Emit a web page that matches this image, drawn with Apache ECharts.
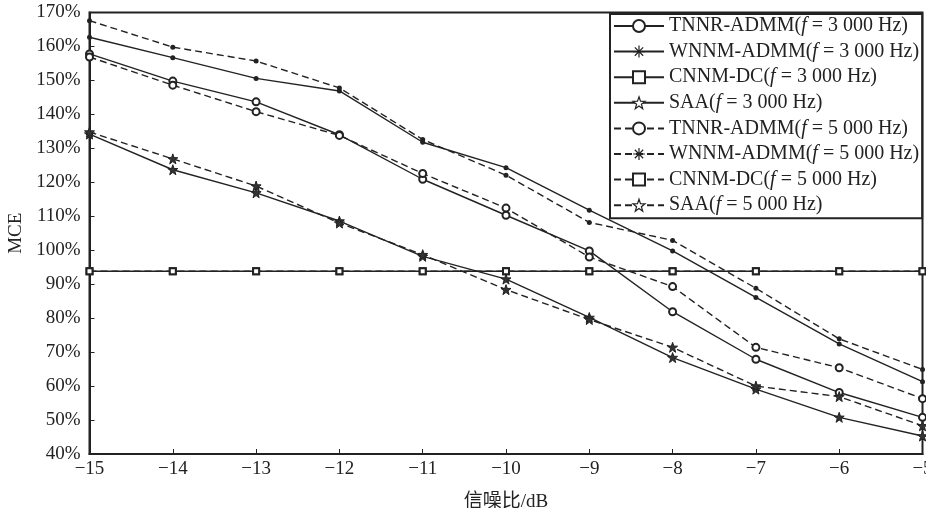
<!DOCTYPE html>
<html>
<head>
<meta charset="utf-8">
<script src="https://cdn.jsdelivr.net/npm/echarts@6/dist/echarts.min.js"></script>
<style>
  html, body { margin: 0; padding: 0; background: #fff; }
  #chart { width: 926px; height: 508px; }
</style>
</head>
<body>
<div id="chart"></div>
<script>
// Signal-to-noise ratio (dB) on the x axis
const snr = [-15, -14, -13, -12, -11, -10, -9, -8, -7, -6, -5];

// MCE (%) for each method at f = 3 000 Hz
const tnnr3000 = [157.8, 149.8, 143.7, 134.0, 120.9, 110.3, 99.8, 81.9, 67.9, 58.1, 50.8];
const wnnm3000 = [162.7, 156.7, 150.6, 146.9, 131.8, 124.3, 111.8, 99.8, 86.1, 72.4, 61.3];
const cnnm3000 = [93.8, 93.8, 93.8, 93.8, 93.8, 93.8, 93.8, 93.8, 93.8, 93.8, 93.8];
const saa3000  = [134.2, 123.7, 116.9, 108.6, 98.2, 91.5, 80.2, 68.4, 59.1, 50.8, 45.3];

// MCE (%) for each method at f = 5 000 Hz
const tnnr5000 = [156.9, 148.6, 140.8, 133.8, 122.6, 112.4, 98.0, 89.3, 71.4, 65.4, 56.3];
const wnnm5000 = [167.6, 159.8, 155.7, 147.8, 132.6, 122.1, 108.2, 102.9, 88.8, 73.9, 64.9];
const cnnm5000 = [93.8, 93.8, 93.8, 93.8, 93.8, 93.8, 93.8, 93.8, 93.8, 93.8, 93.8];
const saa5000  = [134.8, 126.9, 118.9, 108.0, 98.7, 88.4, 79.6, 71.4, 60.0, 56.9, 48.3];

const seriesNames = [
  'TNNR-ADMM(f = 3 000 Hz)', 'WNNM-ADMM(f = 3 000 Hz)', 'CNNM-DC(f = 3 000 Hz)', 'SAA(f = 3 000 Hz)',
  'TNNR-ADMM(f = 5 000 Hz)', 'WNNM-ADMM(f = 5 000 Hz)', 'CNNM-DC(f = 5 000 Hz)', 'SAA(f = 5 000 Hz)'
];

const INK = '#222';
const SERIF = '"Liberation Serif", "Times New Roman", serif';

// Marker shapes
const STAR = 'path://M0,-10 L2.35,-3.24 L9.51,-3.09 L3.8,1.24 L5.88,8.09 L0,4 L-5.88,8.09 L-3.8,1.24 L-9.51,-3.09 L-2.35,-3.24 Z';
const ASTERISK = 'path://M-1,-10 L1,-10 L1,10 L-1,10 Z M-10,-1 L10,-1 L10,1 L-10,1 Z ' +
  'M-6.29,-7.71 L7.71,6.29 L6.29,7.71 L-7.71,-6.29 Z M7.71,-6.29 L-6.29,7.71 L-7.71,6.29 L6.29,-7.71 Z';

function pairs(ys) { return snr.map((x, i) => [x, ys[i]]); }

function makeSeries(name, ys, kind, dashed) {
  const s = {
    name: name,
    type: 'line',
    data: pairs(ys),
    clip: false,
    lineStyle: { color: INK, width: 1.4, type: dashed ? [7, 4] : 'solid' },
    itemStyle: { color: INK, borderColor: INK, borderWidth: 1 },
    emphasis: { disabled: true },
    z: dashed ? 3 : 2
  };
  if (kind === 'circle') {
    s.symbol = 'emptyCircle'; s.symbolSize = 7;
  } else if (kind === 'asterisk') {
    // the asterisk shows in the legend; at plot size each point reads as a small dot
    s.symbol = ASTERISK; s.symbolSize = 6;
    s.itemStyle = { color: INK, borderWidth: 0 };
    s.data = pairs(ys).map(p => ({ value: p, symbol: 'circle', symbolSize: 5 }));
  } else if (kind === 'square') {
    s.symbol = 'emptyRect'; s.symbolSize = 6;
    s.itemStyle = { color: INK, borderColor: INK, borderWidth: 1.4 };
  } else if (kind === 'star') {
    s.symbol = STAR; s.symbolSize = 10;
    s.itemStyle = { color: '#333', borderColor: INK, borderWidth: 1 };
  }
  return s;
}

const series = [
  makeSeries(seriesNames[0], tnnr3000, 'circle', false),
  makeSeries(seriesNames[1], wnnm3000, 'asterisk', false),
  makeSeries(seriesNames[2], cnnm3000, 'square', false),
  makeSeries(seriesNames[3], saa3000, 'star', false),
  makeSeries(seriesNames[4], tnnr5000, 'circle', true),
  makeSeries(seriesNames[5], wnnm5000, 'asterisk', true),
  makeSeries(seriesNames[6], cnnm5000, 'square', true),
  makeSeries(seriesNames[7], saa5000, 'star', true)
];

// legend stars are drawn hollow
const legendData = seriesNames.map(n => n.indexOf('SAA') === 0
  ? { name: n, itemStyle: { color: '#fff', borderColor: INK, borderWidth: 1.2 } }
  : { name: n });

const chart = echarts.init(document.getElementById('chart'), null, { renderer: 'canvas' });

chart.setOption({
  animation: false,
  backgroundColor: '#fff',
  grid: {
    left: 89.5, right: 3.5, top: 12.5, bottom: 54,
    containLabel: false,
    outerBoundsMode: 'none',
    show: true, borderColor: INK, borderWidth: 2, backgroundColor: 'transparent'
  },
  legend: {
    orient: 'vertical',
    left: 610, top: 14,
    padding: [2, 3, 3, 3],
    itemWidth: 50, itemHeight: 15, itemGap: 5.6,
    backgroundColor: '#fff',
    borderColor: INK, borderWidth: 2,
    data: legendData,
    formatter: name => name.replace('(f', '({i|f}'),
    textStyle: {
      fontFamily: SERIF, fontSize: 20, color: INK, lineHeight: 20,
      rich: { i: { fontFamily: SERIF, fontSize: 20, fontStyle: 'italic', color: INK, lineHeight: 20 } }
    }
  },
  xAxis: {
    type: 'value',
    min: -15, max: -5, interval: 1,
    name: '信噪比/dB',
    nameLocation: 'middle',
    nameGap: 39,
    nameTextStyle: { fontFamily: SERIF + ', "Noto Sans CJK SC"', fontSize: 19, color: INK },
    axisLine: { show: true, lineStyle: { color: INK, width: 2 } },
    axisTick: { show: true, inside: true, length: 5, lineStyle: { color: INK, width: 1 } },
    axisLabel: {
      fontFamily: SERIF, fontSize: 19, color: INK, margin: 6,
      formatter: v => String(v).replace('-', '\u2212')
    },
    splitLine: { show: false }
  },
  yAxis: {
    type: 'value',
    min: 40, max: 170, interval: 10,
    name: 'MCE',
    nameLocation: 'middle',
    nameGap: 62,
    nameTextStyle: { fontFamily: SERIF, fontSize: 19, color: INK },
    axisLine: { show: true, lineStyle: { color: INK, width: 2 } },
    axisTick: { show: true, inside: true, length: 5, lineStyle: { color: INK, width: 1 } },
    axisLabel: { fontFamily: SERIF, fontSize: 19, color: INK, margin: 9, formatter: '{value}%' },
    splitLine: { show: false }
  },
  series: series
});
</script>
</body>
</html>
